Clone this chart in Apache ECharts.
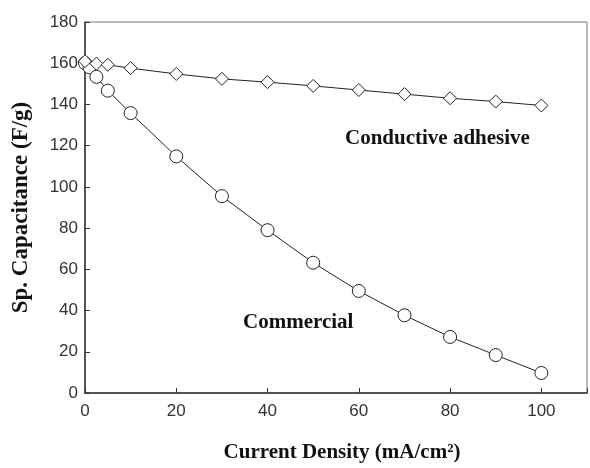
<!DOCTYPE html>
<html><head><meta charset="utf-8">
<script src="https://cdn.jsdelivr.net/npm/echarts@6/dist/echarts.min.js"></script>
<style>html,body{margin:0;padding:0;background:#fff}#c{width:590px;height:468px}</style>
</head><body><div id="c"></div>
<script>
const adhesiveX = [0, 2.5, 5, 10, 20, 30, 40, 50, 60, 70, 80, 90, 100];
const adhesiveY = [161, 159.8, 159.2, 157.6, 154.8, 152.4, 150.8, 149, 147, 145, 143, 141.4, 139.5];
const commercialX = [0, 1, 2.5, 5, 10, 20, 30, 40, 50, 60, 70, 80, 90, 100];
const commercialY = [160, 158, 153.4, 146.7, 135.8, 114.8, 95.5, 79, 63.2, 49.5, 37.7, 27.2, 18.4, 9.7];
const xTicks = [0, 20, 40, 60, 80, 100];
const yTicks = [0, 20, 40, 60, 80, 100, 120, 140, 160, 180];

const pair = (xs, ys) => xs.map((x, i) => [x, ys[i]]);
const chart = echarts.init(document.getElementById('c'));
const axisFont = {fontFamily: 'Liberation Sans', fontSize: 17, color: '#333'};
chart.setOption({
  animation: false,
  grid: {left: 85, width: 507, top: 22, height: 372, show: true, borderColor: '#777', borderWidth: 1},
  xAxis: {
    type: 'value', min: 0, max: 110, interval: 20,
    name: 'Current Density (mA/cm²)', nameLocation: 'middle', nameGap: 49,
    nameTextStyle: {fontFamily: 'Liberation Serif', fontWeight: 'bold', fontSize: 21, color: '#111', padding: [0, 0, 0, 12]},
    axisLine: {lineStyle: {color: '#333', width: 1.5}},
    axisTick: {inside: true, length: 5, lineStyle: {color: '#333'}},
    axisLabel: Object.assign({margin: 10, formatter: v => xTicks.includes(v) ? String(v) : ''}, axisFont),
    splitLine: {show: false}
  },
  yAxis: {
    type: 'value', min: 0, max: 180, interval: 20,
    name: 'Sp. Capacitance (F/g)', nameLocation: 'middle', nameGap: 52,
    nameTextStyle: {fontFamily: 'Liberation Serif', fontWeight: 'bold', fontSize: 23, color: '#111'},
    axisLine: {show: true, lineStyle: {color: '#333', width: 1.5}},
    axisTick: {show: true, inside: true, length: 5, lineStyle: {color: '#333'}},
    axisLabel: Object.assign({margin: 7, formatter: v => yTicks.includes(v) ? String(v) : ''}, axisFont),
    splitLine: {show: false}
  },
  series: [
    {type: 'line', data: pair(adhesiveX, adhesiveY), symbol: 'diamond', symbolSize: 13, showAllSymbol: true,
     lineStyle: {color: '#222', width: 1}, itemStyle: {color: '#fff', borderColor: '#222', borderWidth: 1}, z: 3},
    {type: 'line', data: pair(commercialX, commercialY), symbol: 'circle', symbolSize: 13, showAllSymbol: true,
     lineStyle: {color: '#222', width: 1}, itemStyle: {color: '#fff', borderColor: '#222', borderWidth: 1}, z: 2}
  ],
  graphic: [
    {type: 'text', left: 345, top: 128, style: {text: 'Conductive adhesive', font: 'bold 21px "Liberation Serif"', fill: '#111'}},
    {type: 'text', left: 243, top: 312, style: {text: 'Commercial', font: 'bold 21px "Liberation Serif"', fill: '#111'}}
  ]
});
</script></body></html>
